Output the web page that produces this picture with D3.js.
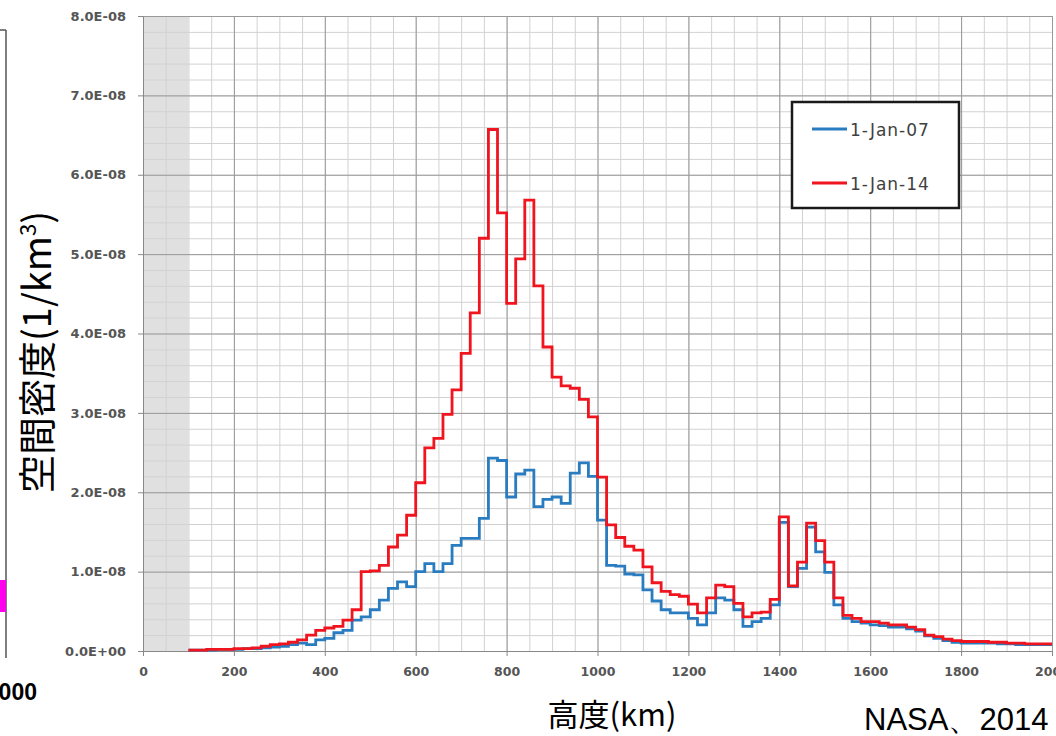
<!DOCTYPE html>
<html>
<head>
<meta charset="utf-8">
<script src="https://cdn.jsdelivr.net/npm/d3@7"></script>
<style>
  body { margin: 0; background: #fff; }
  svg { display: block; }
</style>
</head>
<body>
<div id="viz"></div>
<script>
// dimensions of the page and of the plot area
const width = 1056
const height = 736
const margin = {left: 143, top: 16, right: 4, bottom: 85}
const g_width = 909;   // 0 .. 2000 km
const g_height = 635;  // 0 .. 8.0E-08

// bin starts in km (20 km bins, 100 .. 2000 km)
const binStart = d3.range(100, 2000, 20);
const binEnd = 2000;

// spatial density in units of 1E-08 per km^3
const densityJan07 = [
  0.01, 0.01, 0.01, 0.02, 0.02, 0.02, 0.03, 0.03, 0.04, 0.05,
  0.06, 0.08, 0.10, 0.08, 0.14, 0.16, 0.23, 0.26, 0.39, 0.43,
  0.52, 0.64, 0.79, 0.87, 0.81, 1.00, 1.10, 1.00, 1.10, 1.33,
  1.42, 1.42, 1.67, 2.43, 2.40, 1.94, 2.23, 2.28, 1.82, 1.91,
  1.94, 1.86, 2.24, 2.37, 2.20, 1.65, 1.08, 1.07, 0.97, 0.96,
  0.77, 0.63, 0.52, 0.48, 0.48, 0.41, 0.33, 0.48, 0.67, 0.64,
  0.52, 0.31, 0.37, 0.41, 0.58, 1.62, 0.81, 1.04, 1.56, 1.25,
  0.99, 0.58, 0.41, 0.37, 0.35, 0.33, 0.32, 0.30, 0.30, 0.28,
  0.25, 0.19, 0.16, 0.13, 0.11, 0.10, 0.10, 0.10, 0.10, 0.09,
  0.09, 0.08, 0.08, 0.08, 0.08
];
const densityJan14 = [
  0.01, 0.01, 0.02, 0.02, 0.02, 0.03, 0.03, 0.04, 0.06, 0.08,
  0.09, 0.11, 0.14, 0.20, 0.26, 0.29, 0.31, 0.39, 0.52, 1.00,
  1.01, 1.08, 1.31, 1.46, 1.71, 2.12, 2.56, 2.68, 2.98, 3.29,
  3.75, 4.26, 5.20, 6.57, 5.52, 4.38, 4.94, 5.68, 4.60, 3.83,
  3.45, 3.34, 3.31, 3.17, 2.95, 2.19, 1.59, 1.43, 1.32, 1.27,
  1.06, 0.86, 0.75, 0.71, 0.69, 0.59, 0.48, 0.67, 0.83, 0.81,
  0.60, 0.43, 0.48, 0.49, 0.65, 1.69, 0.82, 1.12, 1.61, 1.39,
  1.12, 0.67, 0.45, 0.41, 0.37, 0.37, 0.35, 0.33, 0.33, 0.30,
  0.27, 0.20, 0.18, 0.15, 0.13, 0.12, 0.12, 0.12, 0.11, 0.11,
  0.10, 0.10, 0.09, 0.09, 0.09
];

const seriesNames = ["1-Jan-07", "1-Jan-14"];
const xTicks = d3.range(0, 2001, 200);
const yTicks = d3.range(0, 8.01, 1);

const svgRoot = d3.select("#viz")
        .append("svg")
        .attr("width", width)
        .attr("height", height);

// leftover edge of the neighbouring figure
svgRoot.append("line")
        .attr("x1", 6).attr("x2", 6).attr("y1", 30).attr("y2", 658)
        .attr("stroke", "#555").attr("stroke-width", 1.5);
svgRoot.append("line")
        .attr("x1", 0).attr("x2", 6).attr("y1", 30).attr("y2", 30)
        .attr("stroke", "#555").attr("stroke-width", 1.5);
svgRoot.append("rect")
        .attr("x", 0).attr("y", 580).attr("width", 6).attr("height", 32)
        .attr("fill", "#ff00ee");
svgRoot.append("text")
        .attr("x", 37).attr("y", 700)
        .attr("text-anchor", "end")
        .style("font", "bold 23px 'Liberation Sans'")
        .text("2000");

const svg = svgRoot.append("g")
        .attr("transform", "translate(" + margin.left + "," + margin.top + ")");

// scales
const x = d3.scaleLinear().domain([0, 2000]).range([0, g_width]);
const y = d3.scaleLinear().domain([0, 8]).range([g_height, 0]);

// shaded band below 100 km
svg.append("rect")
        .attr("x", x(0)).attr("y", 0)
        .attr("width", x(100) - x(0)).attr("height", g_height)
        .attr("fill", "#e0e0e0");

// minor grid
svg.append("g")
        .attr("transform", "translate(0," + g_height + ")")
        .call(d3.axisBottom(x).tickValues(d3.range(0, 2001, 50)).tickSize(-g_height).tickFormat(""))
        .call(g => g.select(".domain").remove())
        .selectAll("line").attr("stroke", "#d2d2d2");
svg.append("g")
        .call(d3.axisLeft(y).tickValues(d3.range(0, 8.01, 0.2)).tickSize(-g_width).tickFormat(""))
        .call(g => g.select(".domain").remove())
        .selectAll("line").attr("stroke", "#d2d2d2");

// major grid
svg.append("g")
        .attr("transform", "translate(0," + g_height + ")")
        .call(d3.axisBottom(x).tickValues(xTicks).tickSize(-g_height).tickFormat(""))
        .call(g => g.select(".domain").remove())
        .selectAll("line").attr("stroke", "#999");
svg.append("g")
        .call(d3.axisLeft(y).tickValues(yTicks).tickSize(-g_width).tickFormat(""))
        .call(g => g.select(".domain").remove())
        .selectAll("line").attr("stroke", "#999");

// y axis
const y_axis = d3.axisLeft(y).tickValues(yTicks).tickSize(5).tickPadding(12)
        .tickFormat(d => d === 0 ? "0.0E+00" : d3.format(".1f")(d) + "E-08");
svg.append("g")
        .call(y_axis)
        .call(g => g.select(".domain").attr("stroke", "#888"))
        .call(g => g.selectAll("line").attr("stroke", "#888"))
        .call(g => g.selectAll("text")
            .style("font", "bold 13px 'DejaVu Sans'")
            .attr("fill", "#555"));

// x axis
const x_axis = d3.axisBottom(x).tickValues(xTicks).tickSize(5).tickPadding(11)
        .tickFormat(d3.format("d"));
svg.append("g")
        .attr("transform", "translate(0," + g_height + ")")
        .call(x_axis)
        .call(g => g.select(".domain").attr("stroke", "#888"))
        .call(g => g.selectAll("line").attr("stroke", "#888"))
        .call(g => g.selectAll("text")
            .style("font", "bold 12.5px 'DejaVu Sans'")
            .attr("fill", "#555"));

// step lines
const colors = d3.scaleOrdinal().domain(seriesNames).range(["#2a7cc0", "#f0141e"]);
const line = d3.line()
        .x(d => x(d[0]))
        .y(d => y(d[1]))
        .curve(d3.curveStepAfter);

function steps(values) {
    const pts = binStart.map((b, i) => [b, values[i]]);
    pts.push([binEnd, values[values.length - 1]]);
    return pts;
}

[densityJan07, densityJan14].forEach((vals, i) => {
    svg.append("path")
        .datum(steps(vals))
        .attr("d", line)
        .attr("fill", "none")
        .attr("stroke", colors(seriesNames[i]))
        .attr("stroke-width", 2.8);
});

// legend
const legend = svgRoot.append("g");
legend.append("rect")
        .attr("x", 792).attr("y", 102)
        .attr("width", 167).attr("height", 106)
        .attr("fill", "#fff")
        .attr("stroke", "#1a1a1a")
        .attr("stroke-width", 2.5);
seriesNames.forEach((name, i) => {
    const ly = 129 + i * 54;
    legend.append("line")
        .attr("x1", 812).attr("x2", 847)
        .attr("y1", ly).attr("y2", ly)
        .attr("stroke", colors(name))
        .attr("stroke-width", 3);
    legend.append("text")
        .attr("x", 850).attr("y", ly + 7)
        .style("font", "17px 'DejaVu Sans'")
        .style("letter-spacing", "1px")
        .attr("fill", "#404040")
        .text(name);
});

// axis titles
const yTitle = svgRoot.append("text")
        .attr("transform", "translate(51,352) rotate(-90)")
        .attr("text-anchor", "middle")
        .style("font", "38px 'Noto Sans CJK JP'")
        .attr("fill", "#000");
yTitle.append("tspan").text("空間密度(1/km");
yTitle.append("tspan").attr("dy", -15).style("font-size", "22px").text("3");
yTitle.append("tspan").attr("dy", 15).text(")");

svgRoot.append("text")
        .attr("x", 612).attr("y", 726)
        .attr("text-anchor", "middle")
        .style("font", "31px 'Noto Sans CJK JP'")
        .attr("fill", "#000")
        .text("高度(km)");

// source
svgRoot.append("text")
        .attr("x", 864).attr("y", 730)
        .style("font", "31px 'Liberation Sans'")
        .attr("fill", "#000")
        .text("NASA、2014");
</script>
</body>
</html>
